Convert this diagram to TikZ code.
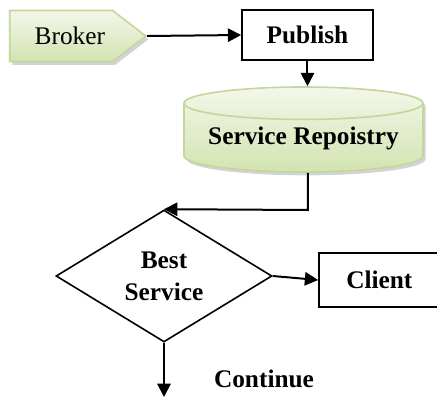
\documentclass[tikz,border=0pt]{standalone}
\usepackage{fontspec}
\setmainfont{Liberation Serif}
\usetikzlibrary{positioning,arrows.meta,shapes.geometric,shapes.symbols,shadows}
\definecolor{lgreen}{HTML}{C3D69B}
\definecolor{pgreen}{HTML}{F3F7EA}
\definecolor{mgreen}{HTML}{D3E3B0}
\tikzset{
  flow/.style={-{Triangle[length=10pt,width=10pt]},line width=1.5pt},
  gshade/.style={draw=lgreen,line width=1.2pt,top color=pgreen,bottom color=mgreen,
    drop shadow={opacity=0.35,shadow xshift=2pt,shadow yshift=-2.5pt}},
  brk/.style={gshade,signal,signal to=east,signal pointer angle=75,
    minimum width=136*0.75pt,minimum height=51*0.75pt,inner sep=0pt},
  pbox/.style={draw,line width=1.2pt,minimum height=50*0.75pt,inner sep=0pt},
  repo/.style={gshade,cylinder,shape border rotate=90,aspect=0.17,
    minimum width=239*0.75pt,minimum height=85*0.75pt,inner sep=0pt},
  dec/.style={diamond,draw,line width=1.2pt,aspect=1.64,align=center,
    minimum width=216*0.75pt,minimum height=132*0.75pt,inner sep=0pt},
  lbl/.style={font=\fontsize{19}{24}\selectfont\bfseries},
}
\begin{document}
\begin{tikzpicture}[x=0.75pt,y=-0.75pt]
  \useasboundingbox (0,0) rectangle (437,397);
  % boxes
  \node[brk,anchor=west,font=\fontsize{19}{24}\selectfont] (broker) at (9,36) {\hspace*{13pt}Broker};
  \node[pbox,lbl,minimum width=131*0.75pt] (publish) at (307.5,35) {Publish};
  \node[repo,lbl] (repo) at (303.5,138) {Service Repoistry};
  \node[dec,lbl] (best) at (164,276) {\raisebox{-3pt}{Best}\\\raisebox{-3pt}{Service}};
  \node[pbox,lbl,minimum width=126*0.75pt,minimum height=54*0.75pt] (client) at (382,280) {\hspace*{-4pt}Client};
  \node[lbl] (cont) at (264,379) {Continue};
  \coordinate (turn) at (308,210);
  \coordinate (out) at (164,397);
  % connectors
  \draw[flow] (broker.east) -- (publish.west);
  \draw[flow] (publish.south) -- (publish.south |- repo.north);
  \draw[flow] (repo.south -| turn) -- (turn) -- (best.north);
  \draw[flow] (best.east) -- (client.west);
  \draw[flow] (best.south) -- (out);
\end{tikzpicture}
\end{document}
